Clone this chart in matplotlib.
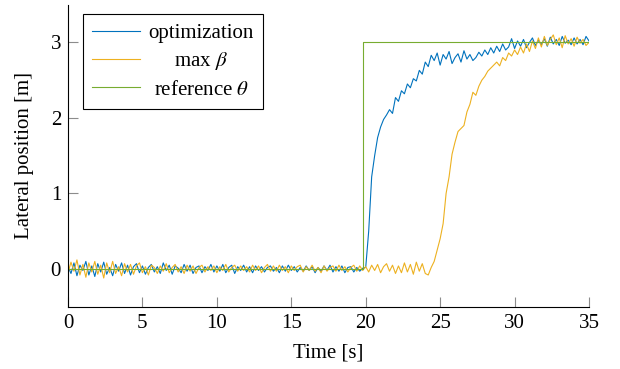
import numpy as np
import matplotlib
matplotlib.use("Agg")
import matplotlib.pyplot as plt

plt.rcParams['font.family'] = ['Liberation Serif', 'DejaVu Serif']
plt.rcParams['mathtext.fontset'] = 'stix'

# time axis (s), 0.2 s step
t_start, t_end, t_step = 0.0, 35.0, 0.2

optimization = [
    0.03, -0.06, 0.08, -0.09, 0.05, -0.02, 0.10, -0.08, 0.04, -0.10,
    0.07, -0.04, 0.09, -0.07, 0.02, -0.09, 0.06, -0.03, 0.08, -0.06,
    0.05, -0.08, 0.03, 0.07, -0.05, 0.04, -0.07, 0.02, 0.06, -0.04,
    0.03, -0.06, 0.08, -0.02, 0.05, -0.07, 0.04, 0.01, -0.05, 0.06,
    -0.03, 0.05, -0.06, 0.02, 0.04, -0.05, 0.03, -0.02, 0.06, -0.04,
    0.04, -0.03, 0.06, -0.05, 0.02, 0.05, -0.06, 0.03, -0.02, 0.05,
    -0.04, 0.03, -0.05, 0.04, -0.02, 0.03, -0.04, 0.02, 0.04, -0.03,
    0.02, -0.05, 0.04, -0.03, 0.05, -0.02, 0.03, -0.04, 0.02, -0.03,
    0.04, -0.02, 0.03, -0.05, 0.02, -0.03, 0.04, -0.02, 0.05, -0.04,
    0.03, -0.03, 0.04, -0.05, 0.02, 0.03, -0.04, 0.02, -0.03, 0.01,
    0.02, 0.50, 1.22, 1.50, 1.74, 1.88, 1.98, 2.04, 2.11, 2.06,
    2.27, 2.22, 2.36, 2.32, 2.45, 2.40, 2.52, 2.49, 2.63, 2.58,
    2.74, 2.68, 2.83, 2.76, 2.86, 2.70, 2.84, 2.78, 2.88, 2.72,
    2.80, 2.85, 2.74, 2.89, 2.78, 2.84, 2.76, 2.80, 2.87, 2.82,
    2.90, 2.84, 2.93, 2.86, 2.95, 2.88, 2.98, 2.90, 2.94, 3.05,
    2.92, 3.02, 2.95, 3.04, 2.93, 3.00, 3.06, 2.96, 3.03, 2.97,
    3.05, 2.95, 3.07, 2.98, 3.04, 2.96, 3.08, 2.99, 3.03, 2.97,
    3.06, 2.98, 3.04, 2.97, 3.08, 3.02,
]

max_beta = [
    -0.05, 0.09, -0.03, 0.12, -0.08, 0.06, -0.11, 0.08, -0.04, 0.10,
    -0.07, 0.05, -0.12, 0.08, -0.05, 0.10, -0.06, 0.03, -0.09, 0.07,
    -0.04, 0.06, -0.07, 0.04, 0.08, -0.05, 0.03, -0.08, 0.05, 0.02,
    -0.06, 0.04, -0.03, 0.07, -0.05, 0.02, 0.06, -0.04, 0.03, -0.06,
    0.05, -0.03, 0.04, -0.06, 0.02, 0.05, -0.04, 0.03, -0.02, 0.04,
    -0.05, 0.03, -0.02, 0.06, -0.04, 0.02, 0.05, -0.03, 0.04, -0.02,
    0.03, -0.04, 0.05, -0.02, 0.04, -0.05, 0.02, 0.06, -0.03, 0.04,
    -0.03, 0.05, -0.02, 0.03, -0.05, 0.04, -0.02, 0.03, 0.05, -0.04,
    0.03, -0.02, 0.05, -0.03, 0.02, -0.05, 0.04, -0.03, 0.02, 0.04,
    -0.03, 0.05, -0.02, 0.03, -0.04, 0.02, 0.05, -0.03, 0.04, -0.02,
    0.03, -0.04, 0.05, -0.02, 0.06, -0.05, 0.03, 0.07, -0.03, 0.05,
    -0.06, 0.04, -0.05, 0.08, -0.04, 0.06, -0.07, 0.09, -0.03, 0.07,
    -0.06, -0.08, 0.02, 0.10, 0.25, 0.40, 0.60, 1.00, 1.22, 1.52,
    1.68, 1.82, 1.86, 1.90, 2.08, 2.18, 2.34, 2.30, 2.42, 2.50,
    2.55, 2.62, 2.66, 2.70, 2.74, 2.69, 2.80, 2.76, 2.86, 2.82,
    2.90, 2.84, 2.94, 2.86, 2.98, 2.88, 3.02, 2.92, 3.06, 2.94,
    3.08, 2.96, 3.04, 3.10, 2.97, 3.06, 2.93, 3.09, 2.98, 3.05,
    2.95, 3.07, 2.99, 3.04, 2.96, 3.00,
]

ref_time = [0.0, 19.8, 19.8, 35.0]
ref_theta = [0.0, 0.0, 3.0, 3.0]

labels = ['optimization', r'max $\beta$', r'reference $\theta$']
colors = ['#0072BD', '#EDB120', '#77AC30']
xticks = [0, 5, 10, 15, 20, 25, 30, 35]
yticks = [0, 1, 2, 3]

time = np.linspace(t_start, t_end, len(optimization))

fig = plt.figure(figsize=(6.2, 3.69), dpi=100)
W, H = 620, 369
ax = fig.add_axes([68 / W, 1 - 306.7 / H, (589 - 68) / W, (306.7 - 4.7) / H])

lw = 0.8
ax.plot(time, optimization, color=colors[0], lw=lw, label=labels[0])
ax.plot(time, max_beta, color=colors[1], lw=lw, label=labels[1])
ax.plot(ref_time, ref_theta, color=colors[2], lw=lw, label=labels[2])

ax.set_xlim(0, 35)
ax.set_ylim(-0.5, 3.5)
ax.set_xticks(xticks)
ax.set_yticks(yticks)
for s in ['top', 'right']:
    ax.spines[s].set_visible(False)
for s in ['left', 'bottom']:
    ax.spines[s].set_linewidth(0.8)
    ax.spines[s].set_color('black')
ax.tick_params(direction='in', length=7, width=0.8, color='#8c8c8c',
               labelsize=15, pad=5)
ax.set_xlabel('Time [s]', fontsize=15, labelpad=8)
ax.set_ylabel('Lateral position [m]', fontsize=15, labelpad=12)

leg = ax.legend(loc='upper left', bbox_to_anchor=((83 - 68) / 521, (306.7 - 14) / 302),
                borderaxespad=0, fontsize=15, frameon=True, fancybox=False,
                edgecolor='black', framealpha=1, handlelength=2.3,
                handletextpad=0.4, borderpad=0.45, labelspacing=0.36)
leg.get_frame().set_linewidth(0.8)
for l in leg.get_lines():
    l.set_linewidth(0.8)

# center legend texts within the text column
fig.canvas.draw()
texts = leg.get_texts()
widths = [tx.get_window_extent().width for tx in texts]
wmax = max(widths)
for tx, w in zip(texts, widths):
    tx.set_x((wmax - w) / 2)

fig.savefig('out.png', dpi=100)
